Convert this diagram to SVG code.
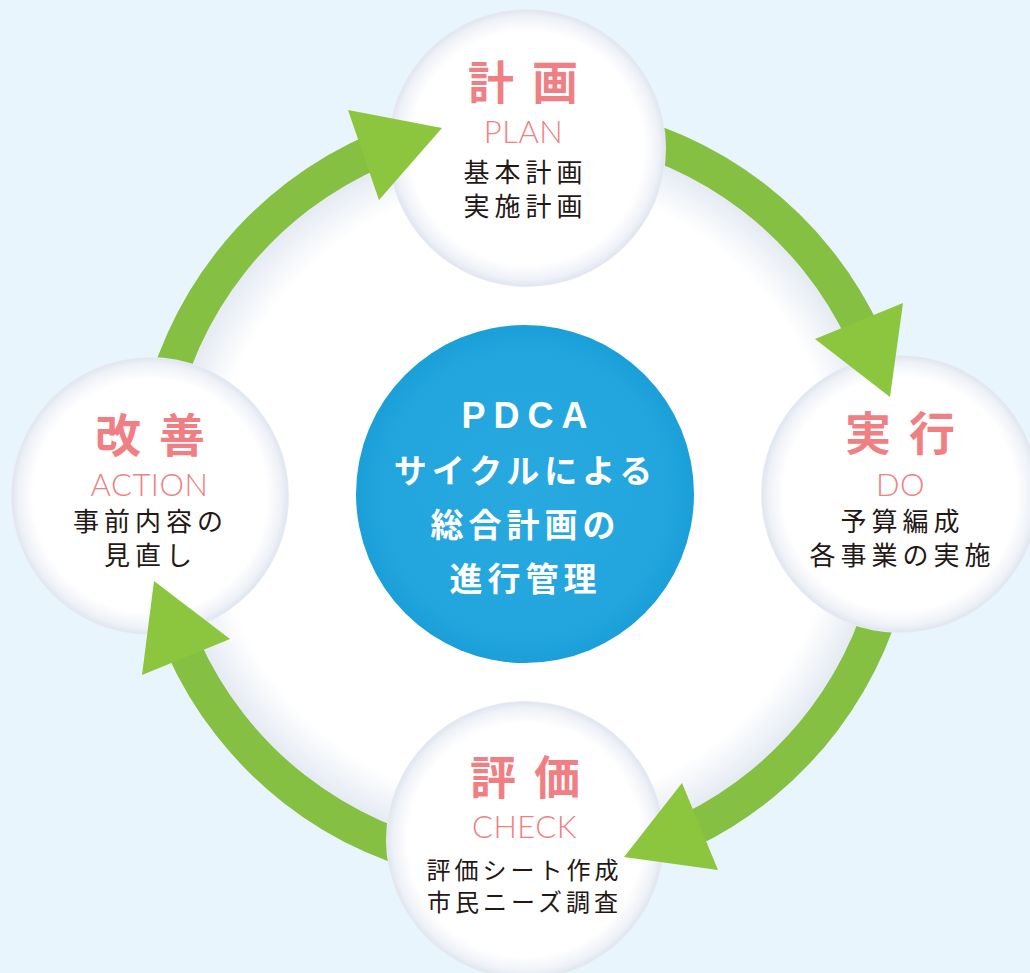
<svg xmlns="http://www.w3.org/2000/svg" width="1030" height="973" viewBox="0 0 1030 973">
<defs>
<style>
.jp{font-family:'Noto Sans CJK JP','Noto Sans CJK SC',sans-serif;}
.title{font-size:46px;font-weight:700;fill:#f07f84;letter-spacing:18px;text-anchor:middle;}
.en{font-family:Lato,'Noto Sans',sans-serif;font-size:31px;font-weight:300;fill:#f07f84;letter-spacing:0.5px;text-anchor:middle;}
.body{font-size:26px;font-weight:400;fill:#231815;letter-spacing:5px;text-anchor:middle;}
.body2{font-size:24px;font-weight:400;fill:#231815;letter-spacing:4px;text-anchor:middle;}
.ctr{font-size:33px;font-weight:700;fill:#ffffff;letter-spacing:5px;text-anchor:middle;}
.pdca{font-family:'Liberation Sans',Arial,sans-serif;font-size:36px;font-weight:700;fill:#ffffff;letter-spacing:8px;text-anchor:middle;}
.band{fill:#85c042;}
.head{fill:#8cc63f;}
.node{fill:url(#nodeGrad);}
</style>
<radialGradient id="discGrad" cx="525" cy="494" r="372" gradientUnits="userSpaceOnUse">
<stop offset="0" stop-color="#ffffff"/>
<stop offset="0.84" stop-color="#ffffff"/>
<stop offset="0.95" stop-color="#e7ecf4"/>
<stop offset="1" stop-color="#dbe2ed"/>
</radialGradient>
<radialGradient id="nodeGrad" cx="0.5" cy="0.5" r="0.5">
<stop offset="0" stop-color="#ffffff"/>
<stop offset="0.84" stop-color="#ffffff"/>
<stop offset="0.95" stop-color="#eef1f7"/>
<stop offset="0.99" stop-color="#e1e6f0"/>
<stop offset="1" stop-color="#ebeff6"/>
</radialGradient>
<radialGradient id="blueGrad" cx="0.5" cy="0.5" r="0.5">
<stop offset="0" stop-color="#28a9e0"/>
<stop offset="0.85" stop-color="#22a5dd"/>
<stop offset="1" stop-color="#1b9fd8"/>
</radialGradient>
<mask id="bandMask" maskUnits="userSpaceOnUse" x="0" y="0" width="1030" height="973">
<rect x="0" y="0" width="1030" height="973" fill="#fff"/>
<circle cx="527" cy="148" r="139" fill="#000"/>
<circle cx="900" cy="494" r="139" fill="#000"/>
<circle cx="525" cy="840" r="139" fill="#000"/>
<circle cx="150" cy="496" r="139" fill="#000"/>
</mask>
</defs>
<rect x="0" y="0" width="1030" height="973" fill="#e8f5fc"/>
<circle cx="525" cy="494" r="372" fill="url(#discGrad)"/>

<g id="node-plan">
<circle class="node" cx="527" cy="148" r="139"/>
<text class="jp title" x="532" y="99">計画</text>
<text class="en" x="523.5" y="143">PLAN</text>
<text class="jp body" x="525.5" y="182">基本計画</text>
<text class="jp body" x="525.5" y="216">実施計画</text>
</g>
<g id="node-do">
<circle class="node" cx="900" cy="494" r="139"/>
<text class="jp title" x="909" y="450">実行</text>
<text class="en" x="900.5" y="496">DO</text>
<text class="jp body" x="902.5" y="531">予算編成</text>
<text class="jp body" x="902.5" y="565">各事業の実施</text>
</g>
<g id="node-check">
<circle class="node" cx="525" cy="840" r="139"/>
<text class="jp title" x="534" y="794">評価</text>
<text class="en" x="524.5" y="838">CHECK</text>
<text class="jp body2" x="524.5" y="879">評価シート作成</text>
<text class="jp body2" x="524.5" y="911">市民ニーズ調査</text>
</g>
<g id="node-action">
<circle class="node" cx="150" cy="496" r="139"/>
<text class="jp title" x="159" y="452">改善</text>
<text class="en" x="149.5" y="496">ACTION</text>
<text class="jp body" x="150.5" y="531">事前内容の</text>
<text class="jp body" x="150.5" y="565">見直し</text>
</g>

<g id="connectors">
<g mask="url(#bandMask)">
<path class="band" d="M593.07,107.95 A392,392 0 0 1 880.27,328.33 L848.55,343.12 A357,357 0 0 0 586.99,142.42 Z"/>
<path class="band" d="M911.05,562.07 A392,392 0 0 1 696.84,846.33 L681.5,814.87 A357,357 0 0 0 876.58,555.99 Z"/>
<path class="band" d="M456.93,880.05 A392,392 0 0 1 166.89,653.44 L198.86,639.21 A357,357 0 0 0 463.01,845.58 Z"/>
<path class="band" d="M138.95,425.93 A392,392 0 0 1 371.83,133.16 L385.51,165.38 A357,357 0 0 0 173.42,432.01 Z"/>
</g>
<polygon class="head" points="815,339 903,303 890,397"/>
<polygon class="head" points="682,783 718,870 624,857"/>
<polygon class="head" points="142,675 230,639 154,581"/>
<polygon class="head" points="348,110 379,200 442,128"/>
</g>

<g id="node-center">
<circle cx="525" cy="494" r="169" fill="url(#blueGrad)"/>
<text class="pdca" x="528.5" y="428">PDCA</text>
<text class="jp ctr" x="525.5" y="483">サイクルによる</text>
<text class="jp ctr" x="525.5" y="537">総合計画の</text>
<text class="jp ctr" x="525.5" y="591">進行管理</text>
</g>
</svg>
